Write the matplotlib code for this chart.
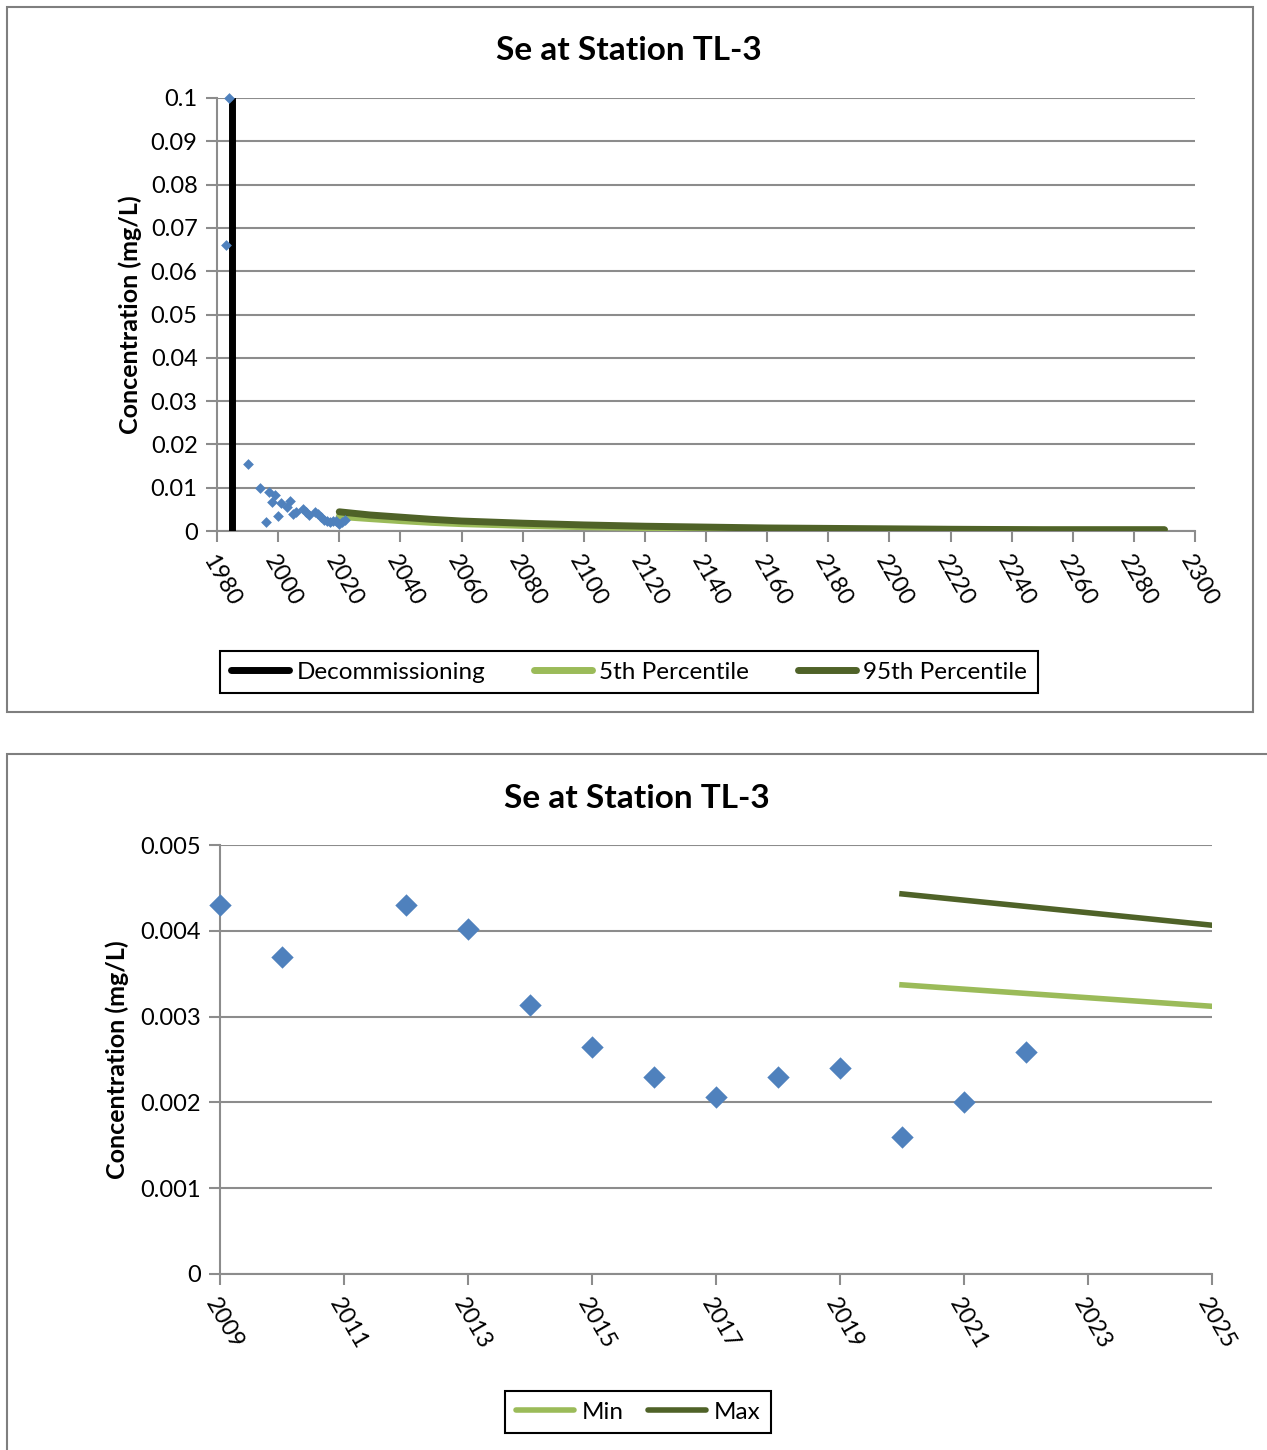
import matplotlib
import matplotlib.pyplot as plt
from matplotlib.patches import Rectangle

matplotlib.use('Agg')
plt.rcParams['font.family'] = ['Lato', 'DejaVu Sans']

# measured concentrations (mg/L)
obs_years = [1983, 1984, 1990, 1994, 1996, 1997, 1998, 1999, 2000, 2001, 2003, 2004, 2005, 2006, 2008,
             2009, 2010, 2012, 2013, 2014, 2015, 2016, 2017, 2018, 2019, 2020, 2021, 2022]
obs_se = [0.066, 0.1, 0.0155, 0.0100, 0.0021, 0.0089, 0.0066, 0.0083, 0.0035, 0.0064, 0.0056, 0.0069,
          0.0040, 0.0045, 0.0050,
          0.0043, 0.0037, 0.0043, 0.00402, 0.00313, 0.00265, 0.0023, 0.00206, 0.0023, 0.0024,
          0.0016, 0.0020, 0.00259]

# model projections
proj_years = [2020, 2030, 2040, 2050, 2060, 2080, 2100, 2120, 2140, 2160, 2180, 2200, 2220, 2250, 2290]
p95 = [0.00443, 0.0037, 0.0032, 0.0027, 0.0023, 0.0018, 0.0014, 0.0011, 0.0009, 0.0007, 0.0006,
       0.0005, 0.0004, 0.0003, 0.0003]
p05 = [0.00337, 0.00287, 0.0024, 0.0020, 0.0017, 0.0013, 0.0010, 0.0008, 0.0006, 0.0005, 0.0004,
       0.0003, 0.0003, 0.0002, 0.0002]

decom_year = 1985

blue = '#4F81BD'
light = '#9BBB59'
dark = '#4F6228'
grid = '#8C8C8C'

W, H = 1267, 1450
fig = plt.figure(figsize=(W / 100, H / 100), dpi=100)


def fx(px):
    return px / W


def fy(py):
    return 1 - py / H


# panel borders
fig.patches.append(Rectangle((fx(7), fy(712)), fx(1253) - fx(7), fy(7) - fy(712),
                             transform=fig.transFigure, fill=False, ec='#7F7F7F', lw=1.5))
fig.patches.append(Rectangle((fx(7), fy(1470)), fx(1290) - fx(7), fy(754) - fy(1470),
                             transform=fig.transFigure, fill=False, ec='#7F7F7F', lw=1.5))


def style(ax):
    for s in ['top', 'right']:
        ax.spines[s].set_visible(False)
    for s in ['left', 'bottom']:
        ax.spines[s].set_color(grid)
        ax.spines[s].set_linewidth(1.5)
    ax.yaxis.grid(True, color=grid, lw=1.5)
    ax.set_axisbelow(True)
    ax.tick_params(axis='both', direction='out', length=8, width=1.5, color=grid, labelsize=17)
    ax.tick_params(axis='y', pad=6)
    ax.tick_params(axis='x', pad=7)
    for lab in ax.get_xticklabels():
        lab.set_rotation(-60)
        lab.set_ha('left')
        lab.set_va('top')
        lab.set_rotation_mode('anchor')


def legend(handles, labels, x, y, ncol, colsp):
    leg = fig.legend(handles, labels, loc='center', bbox_to_anchor=(fx(x), fy(y)),
                     ncol=ncol, fontsize=17.5, frameon=True, fancybox=False, edgecolor='black',
                     framealpha=1, handlelength=2.4, handletextpad=0.3, columnspacing=colsp,
                     borderpad=0.45)
    leg.get_frame().set_linewidth(1.5)
    for ln in leg.get_lines():
        ln.set_solid_capstyle('round')


# top chart
ax1 = fig.add_axes([fx(217), fy(531), fx(1195) - fx(217), fy(98) - fy(531)])
ax1.plot([decom_year, decom_year], [0, 0.1], color='black', lw=5, label='Decommissioning', zorder=3)
ax1.plot(proj_years, p05, color=light, lw=5, label='5th Percentile', zorder=3, solid_capstyle='round')
ax1.plot(proj_years, p95, color=dark, lw=5, label='95th Percentile', zorder=4, solid_capstyle='round')
ax1.scatter(obs_years, obs_se, marker='D', s=30, color=blue, zorder=5, lw=0, clip_on=False)
ax1.set_xlim(1980, 2300)
ax1.set_ylim(0, 0.1)
ax1.set_xticks(range(1980, 2301, 20))
ax1.set_yticks([i / 100 for i in range(11)])
ax1.set_yticklabels(['0'] + ['%g' % (i / 100) for i in range(1, 11)])
style(ax1)
ax1.set_ylabel('Concentration (mg/L)', fontsize=18, fontweight='bold', labelpad=6)
fig.text(fx(629), fy(50), 'Se at Station TL-3', fontsize=24, fontweight='bold', ha='center', va='center')
h, l = ax1.get_legend_handles_labels()
legend(h, l, 629, 672, 3, 2.0)

# bottom chart
yr2 = [y for y in obs_years if y >= 2009]
se2 = [v for y, v in zip(obs_years, obs_se) if y >= 2009]
ax2 = fig.add_axes([fx(220), fy(1274), fx(1212) - fx(220), fy(845) - fy(1274)])
ax2.plot(proj_years, p05, color=light, lw=4, label='Min', zorder=3)
ax2.plot(proj_years, p95, color=dark, lw=4, label='Max', zorder=3)
ax2.scatter(yr2, se2, marker='D', s=130, color=blue, zorder=5, lw=0, clip_on=False)
ax2.set_xlim(2009, 2025)
ax2.set_ylim(0, 0.005)
ax2.set_xticks(range(2009, 2026, 2))
ax2.set_yticks([i / 1000 for i in range(6)])
ax2.set_yticklabels(['0'] + ['%g' % (i / 1000) for i in range(1, 6)])
style(ax2)
ax2.set_ylabel('Concentration (mg/L)', fontsize=18, fontweight='bold', labelpad=8)
fig.text(fx(637), fy(799), 'Se at Station TL-3', fontsize=24, fontweight='bold', ha='center', va='center')
h, l = ax2.get_legend_handles_labels()
legend(h, l, 638, 1412, 2, 1.0)

plt.savefig('out.png', dpi=100)
plt.close()
